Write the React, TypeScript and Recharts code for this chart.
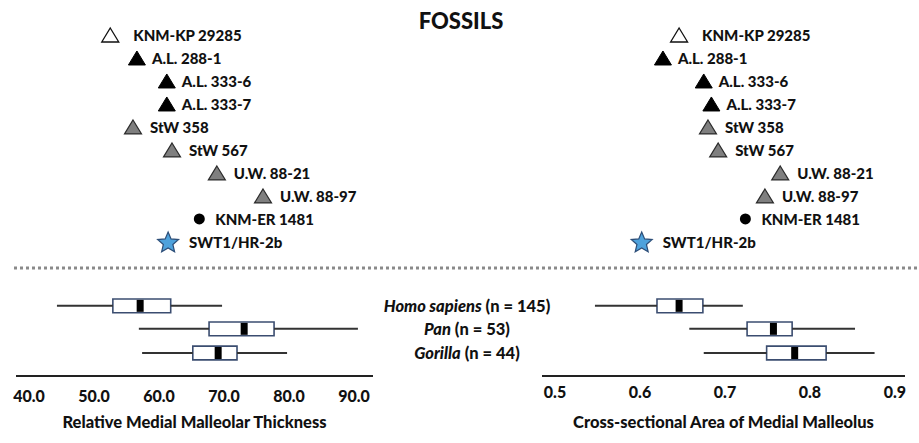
import React from 'react';
import { ScatterChart, Scatter, XAxis, YAxis, ReferenceArea, ReferenceLine } from 'recharts';

// ---------- data ----------
const fossilNames = [
  'KNM-KP 29285', 'A.L. 288-1', 'A.L. 333-6', 'A.L. 333-7', 'StW 358',
  'StW 567', 'U.W. 88-21', 'U.W. 88-97', 'KNM-ER 1481', 'SWT1/HR-2b',
];
const fossilKinds = ['open', 'black', 'black', 'black', 'gray', 'gray', 'gray', 'gray', 'circle', 'star'];
const thicknessFossils = [52.5, 56.6, 61.2, 61.2, 56.0, 62.0, 68.9, 76.0, 66.2, 61.4];
const areaFossils = [0.646, 0.627, 0.675, 0.684, 0.680, 0.692, 0.765, 0.747, 0.724, 0.602];

const speciesNames = ['Homo sapiens', 'Pan', 'Gorilla'];
const speciesN = [145, 53, 44];
// [min, q1, median, q3, max]
const thicknessBoxes = [
  [44.3, 52.9, 57.1, 61.8, 69.7],
  [56.9, 67.7, 73.1, 77.7, 90.6],
  [57.4, 65.2, 69.1, 72.0, 79.7],
];
const areaBoxes = [
  [0.547, 0.620, 0.646, 0.674, 0.721],
  [0.658, 0.726, 0.757, 0.779, 0.853],
  [0.675, 0.749, 0.782, 0.819, 0.876],
];
const thicknessTicks = [40, 50, 60, 70, 80, 90];
const areaTicks = [0.5, 0.6, 0.7, 0.8, 0.9];

const FONT = 'Lato, "Open Sans", sans-serif';
const WEIGHT = 900;
const ROW_DOMAIN: [number, number] = [-1, 14.83];
const SPECIES_ROWS = [11.78, 12.78, 13.83];
const BOX_HALF = 0.3;

const gapFor: Record<string, number> = { open: 23, black: 15, gray: 17, circle: 16, star: 21 };

function Marker({ kind, cx, cy }: { kind: string; cx: number; cy: number }) {
  const w = 8.5, h = 7;
  const tri = `${cx},${cy - h} ${cx + w},${cy + h} ${cx - w},${cy + h}`;
  if (kind === 'open') return <polygon points={tri} fill="#fff" stroke="#111" strokeWidth={1.3} />;
  if (kind === 'black') return <polygon points={tri} fill="#000" stroke="#000" strokeWidth={1} />;
  if (kind === 'gray') return <polygon points={tri} fill="#7f7f7f" stroke="#2b2b2b" strokeWidth={1.2} />;
  if (kind === 'circle') return <circle cx={cx} cy={cy} r={5.5} fill="#000" />;
  const pts: string[] = [];
  for (let i = 0; i < 10; i++) {
    const r = i % 2 === 0 ? 11 : 5;
    const a = -Math.PI / 2 + (i * Math.PI) / 5;
    pts.push(`${cx + r * Math.cos(a)},${cy + 1 + r * Math.sin(a)}`);
  }
  return <polygon points={pts.join(' ')} fill="#4ea2dc" stroke="#2d4e78" strokeWidth={1.2} />;
}

function FossilShape(props: any) {
  const { cx, cy, payload } = props;
  if (cx == null || cy == null) return null;
  return (
    <g>
      <Marker kind={payload.kind} cx={cx} cy={cy} />
      <text
        x={cx + gapFor[payload.kind]}
        y={cy}
        dominantBaseline="central"
        fontFamily={FONT}
        fontWeight={WEIGHT}
        fontSize={15}
        fill="#111"
      >
        {payload.name}
      </text>
    </g>
  );
}

function Panel({
  fossils, boxes, domain, ticks, fmt, title, width, marginLeft, marginRight, tickMargin,
}: any) {
  const data = fossilNames.map((name, i) => ({ name, kind: fossilKinds[i], x: fossils[i], row: i }));
  return (
    <ScatterChart width={width} height={443} margin={{ top: 12, bottom: 7, left: marginLeft, right: marginRight }}>
      <XAxis
        type="number"
        dataKey="x"
        domain={domain}
        ticks={ticks}
        tickFormatter={fmt}
        allowDataOverflow
        height={60}
        tickLine={false}
        tickSize={0}
        tickMargin={tickMargin}
        axisLine={{ stroke: '#222', strokeWidth: 2 }}
        tick={{ fill: '#111', fontSize: 16, fontWeight: WEIGHT, fontFamily: FONT }}
        interval={0}
        label={{ value: title, position: 'insideBottom', offset: 8, fill: '#111', fontSize: 16.5, fontWeight: WEIGHT, fontFamily: FONT }}
      />
      <YAxis type="number" dataKey="row" domain={ROW_DOMAIN} reversed hide allowDataOverflow />
      {boxes.map((b: number[], i: number) => (
        <ReferenceLine
          key={`wl${i}`}
          segment={[{ x: b[0], y: SPECIES_ROWS[i] }, { x: b[1], y: SPECIES_ROWS[i] }]}
          stroke="#333"
          strokeWidth={2}
          ifOverflow="visible"
        />
      ))}
      {boxes.map((b: number[], i: number) => (
        <ReferenceLine
          key={`wr${i}`}
          segment={[{ x: b[3], y: SPECIES_ROWS[i] }, { x: b[4], y: SPECIES_ROWS[i] }]}
          stroke="#333"
          strokeWidth={2}
          ifOverflow="visible"
        />
      ))}
      {boxes.map((b: number[], i: number) => (
        <ReferenceArea
          key={`bx${i}`}
          x1={b[1]}
          x2={b[3]}
          y1={SPECIES_ROWS[i] - BOX_HALF}
          y2={SPECIES_ROWS[i] + BOX_HALF}
          fill="#fff"
          fillOpacity={1}
          stroke="#3b4d70"
          strokeWidth={1.6}
          ifOverflow="visible"
        />
      ))}
      {boxes.map((b: number[], i: number) => (
        <ReferenceLine
          key={`md${i}`}
          segment={[{ x: b[2], y: SPECIES_ROWS[i] - BOX_HALF + 0.04 }, { x: b[2], y: SPECIES_ROWS[i] + BOX_HALF - 0.04 }]}
          stroke="#000"
          strokeWidth={7}
          ifOverflow="visible"
        />
      ))}
      <Scatter data={data} shape={FossilShape} isAnimationActive={false} />
    </ScatterChart>
  );
}

export default function App() {
  return (
    <div style={{ position: 'absolute', left: 0, top: 0, width: 919, height: 443, background: '#fff', fontFamily: FONT }}>
      <div style={{ position: 'absolute', left: 0, top: 0 }}>
        <Panel
          fossils={thicknessFossils}
          boxes={thicknessBoxes}
          domain={[38, 92.92]}
          ticks={thicknessTicks}
          fmt={(v: number) => v.toFixed(1)}
          title="Relative Medial Malleolar Thickness"
          width={460}
          marginLeft={16}
          marginRight={87}
          tickMargin={15}
        />
      </div>
      <div style={{ position: 'absolute', left: 460, top: 0 }}>
        <Panel
          fossils={areaFossils}
          boxes={areaBoxes}
          domain={[0.4847, 0.9118]}
          ticks={areaTicks}
          fmt={(v: number) => String(v)}
          title="Cross-sectional Area of Medial Malleolus"
          width={459}
          marginLeft={82}
          marginRight={14}
          tickMargin={11}
        />
      </div>
      <div style={{ position: 'absolute', left: 361, width: 200, top: 8, textAlign: 'center', fontWeight: WEIGHT, fontSize: 22, lineHeight: '26px', color: '#111' }}>
        FOSSILS
      </div>
      <svg style={{ position: 'absolute', left: 0, top: 0 }} width={919} height={443} pointerEvents="none">
        <line x1={14} x2={919} y1={268} y2={268} stroke="#8a8a8a" strokeWidth={3} strokeDasharray="3 3" />
      </svg>
      {speciesNames.map((s, i) => (
        <div
          key={s}
          style={{
            position: 'absolute', left: 317, width: 300, top: 12 + (SPECIES_ROWS[i] + 1) * 23 - 11,
            textAlign: 'center', fontWeight: WEIGHT, fontSize: 16.5, lineHeight: '22px', color: '#111', whiteSpace: 'nowrap',
          }}
        >
          <i>{s}</i> (n = {speciesN[i]})
        </div>
      ))}
    </div>
  );
}
